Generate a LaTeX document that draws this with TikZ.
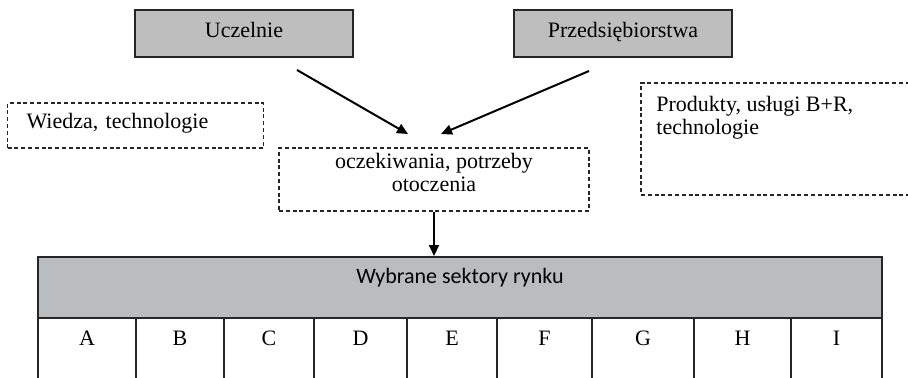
\documentclass[tikz,border=0pt]{standalone}
\usepackage{fontspec}
\setmainfont{Liberation Serif}
\newfontfamily\calib{Carlito}
\usetikzlibrary{arrows.meta}
\definecolor{boxgray}{RGB}{190,190,190}
\definecolor{hdrgray}{RGB}{186,188,189}
\tikzset{
  graybox/.style={draw=black!85, line width=1pt, fill=boxgray, inner sep=0pt, text height=8pt, text depth=4pt, font=\fontsize{11}{13}\selectfont},
  dashbox/.style={draw=black!85, line width=0.9pt, dash pattern=on 2pt off 1.4pt, inner sep=0pt, font=\fontsize{11}{11.5}\selectfont},
  arr/.style={line width=1pt, -{Triangle[length=5.5pt,width=5pt]}},
  cell/.style={inner sep=0pt, minimum height=20pt, font=\fontsize{11}{13}\selectfont},
  grid/.style={draw=black!85, line width=1pt}
}
\begin{document}
\begin{tikzpicture}[x=0.5pt,y=-0.5pt]
\useasboundingbox (0,0) rectangle (908,377);
\clip (0,0) rectangle (908,377);
% top boxes
\node[graybox, minimum width=109pt, minimum height=23.5pt] (ucz) at (244,33.5) {Uczelnie};
\node[graybox, minimum width=109pt, minimum height=23.5pt] (prz) at (623,33.5) {Przedsiębiorstwa};
% dashed boxes
\node[dashbox, minimum width=127.5pt, minimum height=22.5pt, text width=109pt, inner xsep=9.5pt, align=left] (wie) at (135.5,125.5) {Wiedza, technologie\rule[-5pt]{0pt}{5pt}};
\node[dashbox, minimum width=155pt, minimum height=31.5pt, align=center] (ocz) at (434,179.5) {oczekiwania, potrzeby\\otoczenia\rule[-7pt]{0pt}{7pt}};
\node[dashbox, minimum width=139.5pt, minimum height=56pt] (prd) at (780.5,139) {};
\node[anchor=north west, inner sep=0pt, align=left, font=\fontsize{11}{11.5}\selectfont] (prdt) at (656,96) {Produkty, usługi B+R,\\technologie};
% arrows
\coordinate (a1s) at (297,70);
\coordinate (a1e) at (408,134);
\coordinate (a2s) at (589,71);
\coordinate (a2e) at (441,134);
\draw[arr] (a1s) -- (a1e);
\draw[arr] (a2s) -- (a2e);
% header
\node[draw=black!85, line width=1pt, fill=hdrgray, inner sep=0pt, minimum width=422pt, minimum height=30.5pt, text height=7pt, text depth=11.5pt, font=\calib\fontsize{11}{13}\selectfont] (hdr) at (460,287.5) {Wybrane sektory rynku};
\draw[arr] (ocz.south) -- (ocz.south |- hdr.north);
% cells
\foreach \l/\a/\b in {A/38/136, B/136/224, C/224/314, D/314/407, E/407/497, F/497/592, G/592/694, H/694/791, I/791/882}{
  \node[cell, minimum width={(\b-\a)*0.5pt}, anchor=north] (c\l) at ({(\a+\b)/2},318) {\l};
}
\foreach \x in {38,136,224,314,407,497,592,694,791,882}{
  \draw[grid] (\x,318) -- (\x,390);
}
\end{tikzpicture}
\end{document}
